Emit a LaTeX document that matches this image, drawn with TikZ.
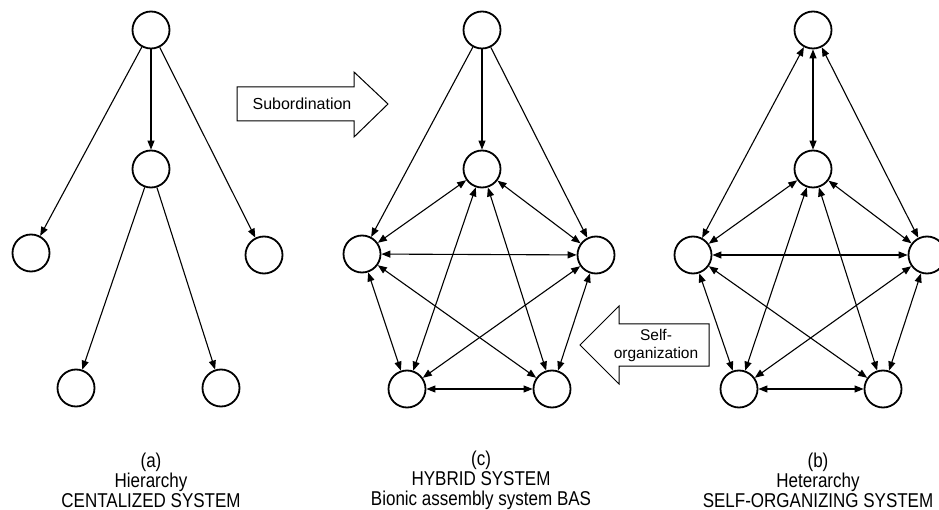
\documentclass[tikz,border=0pt]{standalone}
\usepackage{fontspec}
\setmainfont{Liberation Sans}
\newfontfamily\narrowsf[FakeStretch=0.85]{Liberation Sans}
\usetikzlibrary{arrows.meta}
\begin{document}
\begin{tikzpicture}[x=1pt,y=-1pt,
        unit/.style={draw,circle,line width=1.8pt,minimum size=37pt,inner sep=0pt},
        link/.style={line width=1.1pt,-{Triangle[length=9pt,width=7pt]}},
        both/.style={line width=1.1pt,{Triangle[length=9pt,width=7pt]}-{Triangle[length=9pt,width=7pt]}},
        blockarrow/.style={draw,line width=1pt,line join=miter,fill=white},
        caption/.style={align=center,font=\narrowsf\fontsize{20}{20}\selectfont}]
    \useasboundingbox (0,0) rectangle (939,510);
    % the three systems
    \foreach \n/\x/\y in {a0/151/30,a1/151/169,a2/31/253,a3/264/255,a4/76/388,a5/221/388,
            c0/482/30,c1/482/169,c2/362/254,c3/596/255,c4/407/389,c5/552/389,
            b0/813/30,b1/813/169,b2/693/255,b3/927/255,b4/739/389,b5/883/389}
        \node[unit] (\n) at (\x,\y) {};
    % hierarchy
    \foreach \i/\j in {0/1,0/2,0/3,1/4,1/5}
        \draw[link] (a\i) -- (a\j);
    % hybrid and heterarchy
    \foreach \j in {1,2,3} {
        \draw[link] (c0) -- (c\j);
        \draw[both] (b0) -- (b\j);
    }
    \foreach \g in {c,b}
        \foreach \i/\j in {1/2,1/3,1/4,1/5,2/3,2/4,2/5,3/4,3/5,4/5}
            \draw[both] (\g\i) -- (\g\j);
    % block arrows
    \draw[blockarrow] (237,87) -- (354,87) -- (354,72) -- (388,104) -- (354,137) -- (354,121) -- (237,121) -- cycle;
    \node[font=\fontsize{16}{18}\selectfont] (sub) at (302,104) {Subordination};
    \draw[blockarrow] (709,324) -- (619,324) -- (619,306) -- (580,345) -- (619,384) -- (619,366) -- (709,366) -- cycle;
    \node[align=center,font=\fontsize{15.5}{18}\selectfont] (self) at (656,345) {Self-\\organization};
    % captions
    \node[caption] (capa) at (151,480) {(a)\\Hierarchy\\CENTALIZED SYSTEM};
    \node[caption] (capc) at (481,480) {(c)\\HYBRID SYSTEM\\Bionic assembly system BAS};
    \node[caption] (capb) at (818,480) {(b)\\Heterarchy\\SELF-ORGANIZING SYSTEM};
\end{tikzpicture}
\end{document}
